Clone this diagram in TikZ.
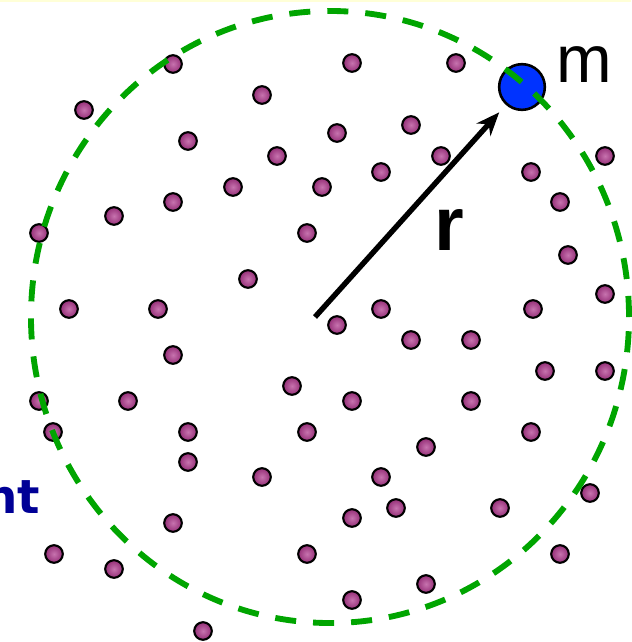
\documentclass[tikz,border=0pt]{standalone}
\usepackage{fontspec}
\setmainfont{Liberation Sans}
\newfontfamily\handfont{DejaVu Sans}
\usetikzlibrary{arrows.meta}

\definecolor{halogreen}{RGB}{0,165,0}
\definecolor{massblue}{RGB}{0,51,255}
\definecolor{starpurple}{RGB}{175,55,140}
\definecolor{textblue}{RGB}{0,0,150}
\definecolor{slideyellow}{RGB}{255,255,215}

\tikzset{
  star/.style={circle, draw=black, line width=1.8pt, inner sep=0pt, minimum size=15pt,
               inner color=starpurple!70!white, outer color=starpurple!85!black},
  testmass/.style={circle, draw=black, line width=2.2pt, inner sep=0pt, minimum size=39pt, fill=massblue},
  halo/.style={draw=halogreen, line width=5pt, dash pattern=on 18pt off 14.5pt}
}

\begin{document}
\begin{tikzpicture}[x=0.03cm, y=-0.03cm, >={Stealth[length=7mm, width=5.6mm]}, line width=4.6pt]
  \useasboundingbox (0,0) rectangle (631,642);
  % borde del fondo
  \fill[slideyellow] (0,0) rectangle (631,2);
  % estrellas de fondo
  \foreach \x/\y [count=\i] in {173/64, 352/63, 456/63, 84/110, 262/95, 188/141, 337/133, 411/125,
      277/156, 441/156, 605/156, 381/172, 531/172, 233/187, 322/187, 173/202, 560/202, 114/216,
      39/233, 307/233, 568/255, 248/279, 69/309, 158/309, 381/309, 533/309, 605/294, 337/325,
      411/340, 471/340, 173/355, 545/371, 605/371, 292/386, 39/401, 128/401, 352/401, 471/401,
      53/432, 188/432, 307/432, 531/432, 426/447, 188/462, 262/477, 381/477, 590/493, 396/508,
      500/508, 352/518, 173/523, 54/554, 307/554, 560/554, 114/569, 426/584, 352/600, 203/631}
    \node[star] (s\i) at (\x,\y) {};
  % masa de prueba
  \node[testmass] (m) at (522,87) {};
  \node[anchor=base west, inner sep=0pt, font=\fontsize{57}{60}\selectfont] (mlabel) at (554,82) {m};
  % radio
  \coordinate (o) at (315,317);
  \draw[->, shorten >=8.5pt] (o) -- (m);
  \node[anchor=base west, inner sep=0pt, font=\fontsize{65}{70}\selectfont\bfseries] (rlabel) at (432,250) {r};
  % esfera de radio r
  \draw[halo] (330,317) ellipse [x radius=8.97cm, y radius=9.18cm];
  % texto cortado
  \node[anchor=base east, inner sep=0pt, text=textblue, font=\handfont\fontsize{40}{42}\selectfont\bfseries] (word) at (43,513) {nt};
\end{tikzpicture}
\end{document}
